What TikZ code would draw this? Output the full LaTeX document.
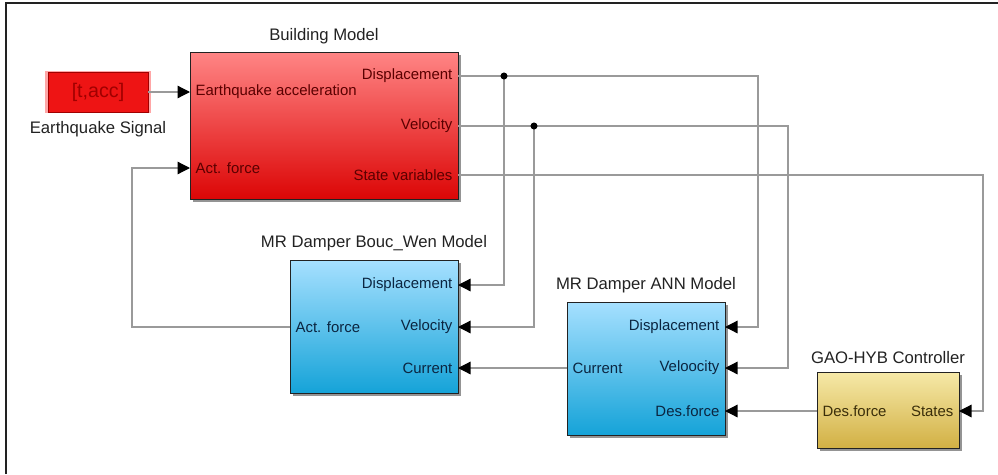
\documentclass[tikz,border=0pt]{standalone}
\usepackage{fontspec}
\setmainfont{Liberation Sans}
\usepackage{tikz}
\usetikzlibrary{positioning,arrows.meta,calc,shadows}
\definecolor{wire}{HTML}{9A9A9A}
\definecolor{frm}{HTML}{222222}
\definecolor{redtop}{HTML}{FF8585}
\definecolor{redbot}{HTML}{DC0606}
\definecolor{redtxt}{HTML}{5A0000}
\definecolor{sigred}{HTML}{EE1414}
\definecolor{sigtxt}{HTML}{A00000}
\definecolor{bluetop}{HTML}{A6E0FF}
\definecolor{bluebot}{HTML}{15A3D8}
\definecolor{bluetxt}{HTML}{0B2540}
\definecolor{yeltop}{HTML}{F6E9A8}
\definecolor{yelbot}{HTML}{D2B044}
\definecolor{yeltxt}{HTML}{3A2E0A}

\begin{document}
\begin{tikzpicture}[x=0.02cm,y=-0.02cm,font=\fontsize{8.5}{10}\selectfont,
  blk/.style={draw=frm,line width=0.5pt,inner sep=0pt,
    drop shadow={shadow xshift=1.5pt,shadow yshift=-1.5pt,fill=black!70,opacity=0.6}},
  bldbox/.style={blk,top color=redtop,bottom color=redbot},
  dmpbox/.style={blk,top color=bluetop,bottom color=bluebot},
  ctlbox/.style={blk,top color=yeltop,bottom color=yelbot},
  sigbox/.style={draw=sigtxt,fill=sigred,line width=0.5pt,text=sigtxt,
    font=\fontsize{11.2}{13}\selectfont,minimum width=2cm,minimum height=0.8cm,
    drop shadow={shadow xshift=0pt,shadow yshift=0pt,shadow scale=1.06,fill=red,opacity=0.35}},
  ttl/.style={text=frm,font=\fontsize{9.5}{11}\selectfont},
  pin/.style={inner xsep=3pt,inner ysep=0pt},
  wirel/.style={draw=wire,line width=0.7pt},
  arr/.style={wirel,-{Triangle[length=0.25cm,width=0.25cm,color=black]}}]
\useasboundingbox (0,0) rectangle (998,474);
\draw[frm,line width=1.2pt] (6,474) -- (6,3) -- (998,3);

% blocks
\node[sigbox] (sig) at (98,92) {[t,acc]};
\node[ttl,below=1.5pt of sig] (sigttl) {Earthquake Signal};
\node[bldbox,minimum width=5.36cm,minimum height=2.94cm] (bld) at (324,125.5) {};
\node[ttl,above=1pt of bld] (bldttl) {Building Model};
\node[dmpbox,minimum width=3.36cm,minimum height=2.66cm] (bw) at (374,326.5) {};
\node[ttl,above=1.5pt of bw] (bwttl) {MR Damper Bouc\_Wen Model};
\node[dmpbox,minimum width=3.16cm,minimum height=2.66cm] (ann) at (646,368.5) {};
\node[ttl,above=1.5pt of ann] (annttl) {MR Damper ANN Model};
\node[ctlbox,minimum width=2.84cm,minimum height=1.52cm] (gao) at (888,410) {};
\node[ttl,above=1pt of gao] (gaottl) {GAO-HYB Controller};

% ports
\foreach \n/\y/\t in {bdisp/76/Displacement,bvel/126/Velocity,bstate/175/State variables}{
  \coordinate (\n) at (458,\y);
  \node[pin,anchor=east,text=redtxt] (\n-t) at (\n) {\t};
}
\foreach \n/\y/\t in {bacc/92/Earthquake acceleration,bact/168/Act. force}{
  \coordinate (\n) at (190,\y);
  \node[pin,anchor=west,text=redtxt] (\n-t) at (\n) {\t};
}
\foreach \n/\y/\t in {bwdisp/285/Displacement,bwvel/327/Velocity,bwcur/368/Current}{
  \coordinate (\n) at (458,\y);
  \node[pin,anchor=east,text=bluetxt] (\n-t) at (\n) {\t};
}
\coordinate (bwact) at (290,327);
\node[pin,anchor=west,text=bluetxt] (bwact-t) at (bwact) {Act. force};
\foreach \n/\y/\t in {adisp/327/Displacement,avel/368/Veloocity,ades/411/Des.force}{
  \coordinate (\n) at (725,\y);
  \node[pin,anchor=east,text=bluetxt] (\n-t) at (\n) {\t};
}
\coordinate (acur) at (567,368);
\node[pin,anchor=west,text=bluetxt] (acur-t) at (acur) {Current};
\coordinate (gdes) at (817,411);
\node[pin,anchor=west,text=yeltxt] (gdes-t) at (gdes) {Des.force};
\coordinate (gst) at (959,411);
\node[pin,anchor=east,text=yeltxt] (gst-t) at (gst) {States};

% wiring
\coordinate (j1) at (504,76);
\coordinate (j2) at (534,126);
\coordinate (c1) at (758,76);
\coordinate (c2) at (788,126);
\coordinate (c3) at (983,175);
\coordinate (fbk) at (132,168);
\draw[arr] (sig) -- (bacc);
\draw[arr] (bwact) -| (fbk) -- (bact);
\draw[arr] (bdisp) -- (c1) |- (adisp);
\draw[arr] (j1) |- (bwdisp);
\draw[arr] (bvel) -- (c2) |- (avel);
\draw[arr] (j2) |- (bwvel);
\draw[arr] (bstate) -- (c3) |- (gst);
\draw[arr] (acur) -- (bwcur);
\draw[arr] (gdes) -- (ades);
\fill (j1) circle (2pt);
\fill (j2) circle (2pt);
\end{tikzpicture}
\end{document}
